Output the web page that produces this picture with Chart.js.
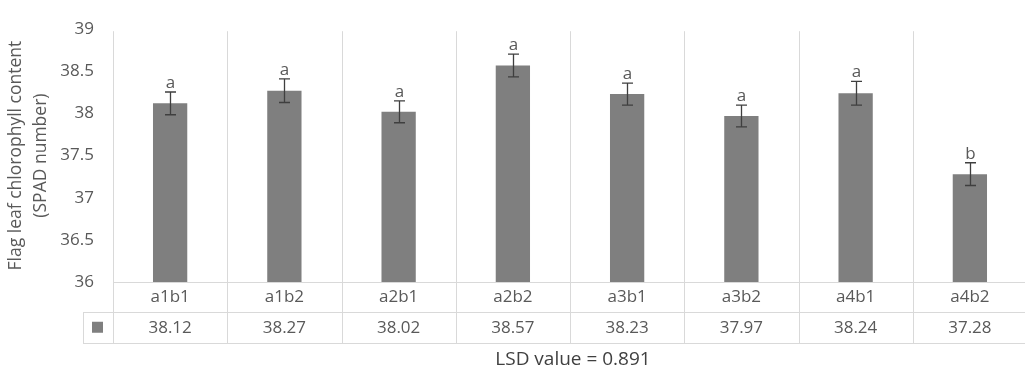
<!DOCTYPE html>
<html><head><meta charset="utf-8">
<script src="https://cdn.jsdelivr.net/npm/chart.js@4"></script>
<style>
html,body{margin:0;padding:0;background:#fff;overflow:hidden}
#wrap{position:relative;width:1027px;height:375px}
</style>
</head><body><div id="wrap"><canvas id="c"></canvas></div>
<script>
const categories = ['a1b1','a1b2','a2b1','a2b2','a3b1','a3b2','a4b1','a4b2'];
const spadValues = [38.12,38.27,38.02,38.57,38.23,37.97,38.24,37.28];
const errorValues = [0.135,0.14,0.13,0.135,0.13,0.13,0.14,0.135];
const letters = ['a','a','a','a','a','a','a','b'];
const yTitle = ['Flag leaf chlorophyll content','(SPAD number)'];
const footnote = 'LSD value = 0.891';

const FONT = "'Open Sans', 'DejaVu Sans', sans-serif";
const GRID = '#d9d9d9';
const TXT = '#595959';
const BAR = '#7f7f7f';

const tablePlugin = {
  id: 'tablePlugin',
  beforeDatasetsDraw(chart) {
    const ctx = chart.ctx, a = chart.chartArea;
    const n = categories.length, w = (a.right - a.left) / n;
    const r1 = a.bottom, r2 = a.bottom + 29.5, r3 = a.bottom + 61;
    const legL = a.left - 30;
    ctx.save();
    ctx.strokeStyle = GRID; ctx.lineWidth = 1;
    ctx.beginPath();
    for (let i = 0; i <= n; i++) {
      const x = Math.round(a.left + i * w) + 0.5;
      ctx.moveTo(x, a.top + 2); ctx.lineTo(x, r3);
    }
    ctx.moveTo(a.left, Math.round(r1) + 0.5); ctx.lineTo(a.right, Math.round(r1) + 0.5);
    ctx.moveTo(legL, Math.round(r2) + 0.5); ctx.lineTo(a.right, Math.round(r2) + 0.5);
    ctx.moveTo(legL, Math.round(r3) + 0.5); ctx.lineTo(a.right, Math.round(r3) + 0.5);
    ctx.moveTo(Math.round(legL) + 0.5, Math.round(r2)); ctx.lineTo(Math.round(legL) + 0.5, Math.round(r3) + 1);
    ctx.stroke();
    ctx.restore();
  },
  afterDatasetsDraw(chart) {
    const ctx = chart.ctx, a = chart.chartArea;
    const ys = chart.scales.y, xs = chart.scales.x;
    const n = categories.length, w = (a.right - a.left) / n;
    ctx.save();
    ctx.strokeStyle = '#3f3f3f'; ctx.lineWidth = 1.3;
    for (let i = 0; i < n; i++) {
      const x = Math.round(xs.getPixelForValue(i)) + 0.5;
      const yt = ys.getPixelForValue(spadValues[i] + errorValues[i]);
      const yb = ys.getPixelForValue(spadValues[i] - errorValues[i]);
      ctx.beginPath();
      ctx.moveTo(x, yt); ctx.lineTo(x, yb);
      ctx.moveTo(x - 5.5, yt); ctx.lineTo(x + 5.5, yt);
      ctx.moveTo(x - 5.5, yb); ctx.lineTo(x + 5.5, yb);
      ctx.stroke();
      ctx.fillStyle = TXT;
      ctx.font = '17px ' + FONT;
      ctx.textAlign = 'center'; ctx.textBaseline = 'alphabetic';
      ctx.fillText(letters[i], x, yt - 4);
    }
    const r1 = a.bottom, r2 = a.bottom + 29.5, r3 = a.bottom + 61;
    ctx.fillStyle = TXT; ctx.font = '17px ' + FONT;
    ctx.textAlign = 'center'; ctx.textBaseline = 'middle';
    for (let i = 0; i < n; i++) {
      const cx = a.left + (i + 0.5) * w;
      ctx.fillText(categories[i], cx, (r1 + r2) / 2 + 0.5);
      ctx.fillText(spadValues[i].toFixed(2), cx, (r2 + r3) / 2 + 0.5);
    }
    ctx.fillStyle = BAR;
    ctx.fillRect(a.left - 21, (r2 + r3) / 2 - 5.5, 11, 11);
    ctx.fillStyle = '#404040'; ctx.font = '19px ' + FONT;
    ctx.fillText(footnote, 573, 360);
    ctx.restore();
  }
};

new Chart(document.getElementById('c'), {
  type: 'bar',
  data: {
    labels: categories,
    datasets: [{
      data: spadValues,
      backgroundColor: BAR,
      borderWidth: 0,
      barPercentage: 0.3,
      categoryPercentage: 1.0
    }]
  },
  options: {
    responsive: true,
    maintainAspectRatio: false,
    animation: false,
    events: [],
    layout: { padding: { top: 15, bottom: 93, left: 0, right: 0 } },
    plugins: { legend: { display: false }, tooltip: { enabled: false } },
    scales: {
      x: { display: false },
      y: {
        min: 36, max: 39,
        ticks: { stepSize: 0.5, color: TXT, font: { family: FONT, size: 17 }, padding: 19,
                 callback: (v) => String(Number(v)) },
        grid: { display: false, drawTicks: false },
        border: { display: false },
        title: { display: true, text: yTitle, color: TXT, font: { family: FONT, size: 17.5, lineHeight: 1.4 }, padding: { top: 4, bottom: 0 } },
        afterFit(scale) { scale.width = 113; }
      }
    }
  },
  plugins: [tablePlugin]
});
</script>
</body></html>
